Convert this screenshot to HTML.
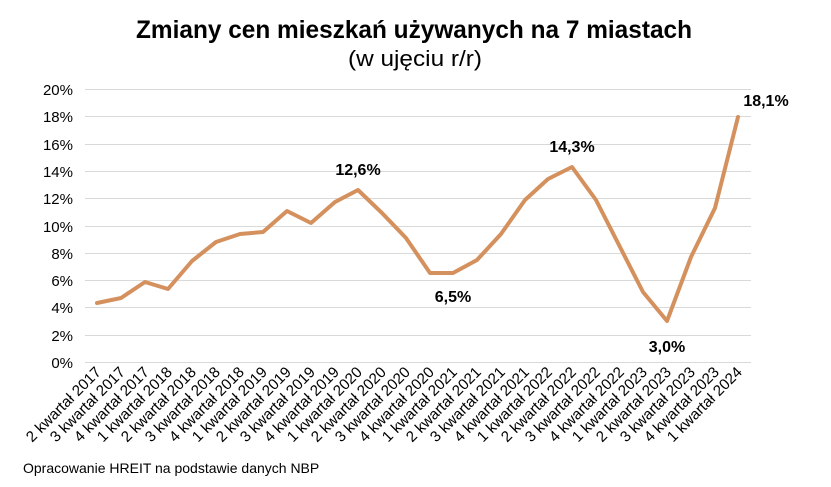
<!DOCTYPE html>
<html><head><meta charset="utf-8"><style>
html,body{margin:0;padding:0;background:#fff;}
svg{display:block;font-family:"Liberation Sans",Arial,sans-serif;}
</style></head><body>
<svg width="831" height="487" viewBox="0 0 831 487" xmlns="http://www.w3.org/2000/svg">
<text x="414" y="38" text-anchor="middle" font-size="25" font-weight="bold" textLength="556" lengthAdjust="spacingAndGlyphs">Zmiany cen mieszkań używanych na 7 miastach</text>
<text x="415" y="66" text-anchor="middle" font-size="22" textLength="134" lengthAdjust="spacingAndGlyphs">(w ujęciu r/r)</text>
<g stroke="#d9d9d9" stroke-width="1">
<line x1="85" x2="751" y1="362.5" y2="362.5"/><line x1="85" x2="751" y1="335.5" y2="335.5"/><line x1="85" x2="751" y1="307.5" y2="307.5"/><line x1="85" x2="751" y1="280.5" y2="280.5"/><line x1="85" x2="751" y1="253.5" y2="253.5"/><line x1="85" x2="751" y1="226.5" y2="226.5"/><line x1="85" x2="751" y1="198.5" y2="198.5"/><line x1="85" x2="751" y1="171.5" y2="171.5"/><line x1="85" x2="751" y1="144.5" y2="144.5"/><line x1="85" x2="751" y1="116.5" y2="116.5"/><line x1="85" x2="751" y1="89.5" y2="89.5"/>
</g>
<g font-size="15" text-anchor="end" fill="#000">
<text x="73" y="368">0%</text><text x="73" y="341">2%</text><text x="73" y="313">4%</text><text x="73" y="286">6%</text><text x="73" y="259">8%</text><text x="73" y="232">10%</text><text x="73" y="204">12%</text><text x="73" y="177">14%</text><text x="73" y="150">16%</text><text x="73" y="122">18%</text><text x="73" y="95">20%</text>
</g>
<polyline fill="none" stroke="#d4915e" stroke-width="4" stroke-linejoin="round" stroke-linecap="round"
points="97,303 121,298 145,282 168,289 192,261 216,242 240,234 263,232 287,211 311,223 335,202 358,190 382,213 406,238 430,273 453,273 477,260 501,234 525,200 548,179 572,167 596,200 620,247 643,292 667,321 691,257 715,208 738,117"/>
<g font-size="16" font-weight="bold" text-anchor="middle">
<text x="358" y="175">12,6%</text>
<text x="453" y="302">6,5%</text>
<text x="572" y="152">14,3%</text>
<text x="667" y="352">3,0%</text>
<text x="766" y="106">18,1%</text>
</g>
<g font-size="15.2" text-anchor="end">
<text transform="translate(102,373) rotate(-45)">2 kwartał 2017</text>
<text transform="translate(126,373) rotate(-45)">3 kwartał 2017</text>
<text transform="translate(150,373) rotate(-45)">4 kwartał 2017</text>
<text transform="translate(173,373) rotate(-45)">1 kwartał 2018</text>
<text transform="translate(197,373) rotate(-45)">2 kwartał 2018</text>
<text transform="translate(221,373) rotate(-45)">3 kwartał 2018</text>
<text transform="translate(245,373) rotate(-45)">4 kwartał 2018</text>
<text transform="translate(268,373) rotate(-45)">1 kwartał 2019</text>
<text transform="translate(292,373) rotate(-45)">2 kwartał 2019</text>
<text transform="translate(316,373) rotate(-45)">3 kwartał 2019</text>
<text transform="translate(340,373) rotate(-45)">4 kwartał 2019</text>
<text transform="translate(363,373) rotate(-45)">1 kwartał 2020</text>
<text transform="translate(387,373) rotate(-45)">2 kwartał 2020</text>
<text transform="translate(411,373) rotate(-45)">3 kwartał 2020</text>
<text transform="translate(435,373) rotate(-45)">4 kwartał 2020</text>
<text transform="translate(458,373) rotate(-45)">1 kwartał 2021</text>
<text transform="translate(482,373) rotate(-45)">2 kwartał 2021</text>
<text transform="translate(506,373) rotate(-45)">3 kwartał 2021</text>
<text transform="translate(530,373) rotate(-45)">4 kwartał 2021</text>
<text transform="translate(553,373) rotate(-45)">1 kwartał 2022</text>
<text transform="translate(577,373) rotate(-45)">2 kwartał 2022</text>
<text transform="translate(601,373) rotate(-45)">3 kwartał 2022</text>
<text transform="translate(625,373) rotate(-45)">4 kwartał 2022</text>
<text transform="translate(648,373) rotate(-45)">1 kwartał 2023</text>
<text transform="translate(672,373) rotate(-45)">2 kwartał 2023</text>
<text transform="translate(696,373) rotate(-45)">3 kwartał 2023</text>
<text transform="translate(720,373) rotate(-45)">4 kwartał 2023</text>
<text transform="translate(743,373) rotate(-45)">1 kwartał 2024</text>
</g>
<text x="23" y="473" font-size="14">Opracowanie HREIT na podstawie danych NBP</text>
</svg>
</body></html>
